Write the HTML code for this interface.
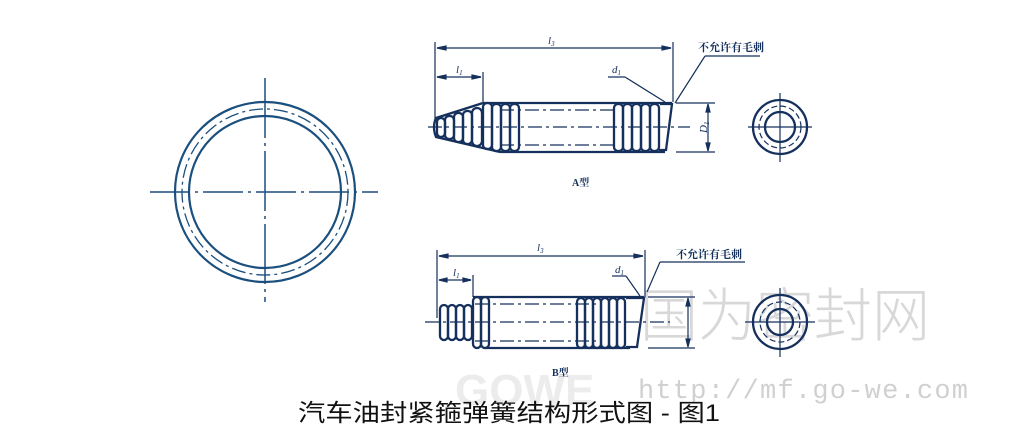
<!DOCTYPE html>
<html><head><meta charset="utf-8"><style>
html,body{margin:0;padding:0;background:#fff;}
svg{display:block}
</style></head><body>
<svg width="1018" height="443" viewBox="0 0 1018 443" xmlns="http://www.w3.org/2000/svg" font-family="'Liberation Serif','Noto Serif CJK SC',serif">
<rect width="1018" height="443" fill="#fff"/>
<g stroke="none">
<text x="640" y="336" font-size="58" font-family="'Liberation Sans','Noto Sans CJK SC',sans-serif" fill="#d8d8d8" font-weight="300">国为密封网</text>
<text x="638" y="398" font-size="27" font-family="'Liberation Mono',monospace" fill="#d0d0d0" textLength="330" lengthAdjust="spacing">http://mf.go-we.com</text>
<text x="455" y="405" font-size="44" font-family="'Liberation Sans',sans-serif" font-weight="bold" fill="#ececec">GOWE</text>
</g>
<g stroke="#1a4f7e" fill="none" stroke-width="2.2">
<circle cx="265" cy="192" r="90"/>
<circle cx="265" cy="192" r="76"/>
<circle cx="265" cy="192" r="83" stroke-width="1.3" stroke-dasharray="14 4 3 4"/>
<line x1="265" y1="78" x2="265" y2="302" stroke-width="1.5" stroke-dasharray="60 5 3 5"/>
<line x1="150" y1="192" x2="378" y2="192" stroke-width="1.5" stroke-dasharray="40 5 3 5"/>
</g>
<g stroke="#15305c" fill="none" stroke-width="1.2">
<line x1="435" y1="42" x2="435" y2="120"/>
<line x1="483" y1="72" x2="483" y2="102"/>
<line x1="673" y1="42" x2="673" y2="102"/>
<line x1="437" y1="48" x2="671" y2="48"/>
<polygon points="437,48 446,46 446,50" fill="#15305c"/>
<polygon points="671,48 662,46 662,50" fill="#15305c"/>
<line x1="437" y1="77" x2="481" y2="77"/>
<polygon points="437,77 446,75 446,79" fill="#15305c"/>
<polygon points="481,77 472,75 472,79" fill="#15305c"/>
<line x1="676" y1="103" x2="715" y2="103"/>
<line x1="676" y1="152" x2="715" y2="152"/>
<line x1="708" y1="105" x2="708" y2="150"/>
<polygon points="708,104 706,112 710,112" fill="#15305c"/>
<polygon points="708,151 706,143 710,143" fill="#15305c"/>
<line x1="705" y1="56" x2="675" y2="103"/>
<line x1="705" y1="56" x2="760" y2="56"/>
<line x1="608" y1="77" x2="625" y2="77"/>
<line x1="625" y1="77" x2="665" y2="102"/>
<line x1="428" y1="127" x2="690" y2="127" stroke-dasharray="14 4 3 4"/>
<line x1="500" y1="110" x2="615" y2="110" stroke-dasharray="14 4 3 4"/>
<line x1="500" y1="145" x2="615" y2="145" stroke-dasharray="14 4 3 4"/>
</g>
<g stroke="#15305c" fill="none" stroke-width="2.3">
<path d="M483,103 H672 M500,152 H665"/>
<path d="M483,103 L436,118 Q432,127 436,137 L500,152"/>
<rect x="437" y="118" width="8" height="19" rx="4"/>
<rect x="445" y="116" width="9" height="23" rx="4"/>
<rect x="454" y="113" width="9" height="29" rx="4"/>
<rect x="463" y="111" width="9" height="33" rx="4"/>
<rect x="472" y="108" width="10" height="38" rx="5"/>
<rect x="483" y="103" width="9" height="46" rx="4"/>
<rect x="492" y="104" width="9" height="47" rx="4"/>
<rect x="501" y="104" width="9" height="47" rx="4"/>
<rect x="510" y="104" width="9" height="47" rx="4"/>
<rect x="614" y="104" width="9" height="47" rx="4"/>
<rect x="623" y="104" width="9" height="47" rx="4"/>
<rect x="632" y="104" width="9" height="47" rx="4"/>
<rect x="641" y="104" width="9" height="47" rx="4"/>
<rect x="650" y="104" width="9" height="47" rx="4"/>
<path d="M660,104 L672,104 L666,150 L659,150"/>
<circle cx="780" cy="127" r="27"/>
<circle cx="780" cy="127" r="15"/>
<circle cx="780" cy="127" r="21" stroke-width="1.2" stroke-dasharray="6 3"/>
<line x1="748" y1="127" x2="812" y2="127" stroke-width="1.2"/>
<line x1="780" y1="93" x2="780" y2="162" stroke-width="1.2"/>
</g>
<g stroke="#15305c" fill="none" stroke-width="1.2">
<line x1="437" y1="250" x2="437" y2="318"/>
<line x1="473" y1="275" x2="473" y2="297"/>
<line x1="645" y1="250" x2="645" y2="297"/>
<line x1="439" y1="256" x2="643" y2="256"/>
<polygon points="439,256 448,254 448,258" fill="#15305c"/>
<polygon points="643,256 634,254 634,258" fill="#15305c"/>
<line x1="439" y1="280" x2="471" y2="280"/>
<polygon points="439,280 447,278 447,282" fill="#15305c"/>
<polygon points="471,280 463,278 463,282" fill="#15305c"/>
<line x1="648" y1="297" x2="695" y2="297"/>
<line x1="648" y1="348" x2="695" y2="348"/>
<line x1="688" y1="299" x2="688" y2="346"/>
<polygon points="688,298 686,306 690,306" fill="#15305c"/>
<polygon points="688,347 686,339 690,339" fill="#15305c"/>
<line x1="660" y1="262" x2="647" y2="292"/>
<line x1="660" y1="262" x2="745" y2="262"/>
<line x1="612" y1="276" x2="626" y2="276"/>
<line x1="626" y1="276" x2="640" y2="296"/>
<line x1="425" y1="322" x2="670" y2="322" stroke-dasharray="14 4 3 4"/>
<line x1="475" y1="304" x2="600" y2="304" stroke-dasharray="14 4 3 4"/>
<line x1="475" y1="341" x2="600" y2="341" stroke-dasharray="14 4 3 4"/>
</g>
<g stroke="#15305c" fill="none" stroke-width="2.3">
<path d="M473,297 H644 M485,348 H630"/>
<rect x="440" y="305" width="8" height="35" rx="4"/>
<rect x="448" y="305" width="8" height="35" rx="4"/>
<rect x="456" y="305" width="8" height="35" rx="4"/>
<rect x="464" y="305" width="8" height="35" rx="4"/>
<rect x="473" y="297" width="8" height="51" rx="4"/>
<rect x="481" y="297" width="8" height="51" rx="4"/>
<rect x="577" y="298" width="8" height="50" rx="4"/>
<rect x="585" y="298" width="8" height="50" rx="4"/>
<rect x="593" y="298" width="8" height="50" rx="4"/>
<rect x="601" y="298" width="8" height="50" rx="4"/>
<rect x="609" y="298" width="8" height="50" rx="4"/>
<rect x="617" y="298" width="8" height="50" rx="4"/>
<path d="M626,298 L644,298 L637,347 L626,347"/>
<circle cx="780" cy="322" r="27"/>
<circle cx="780" cy="322" r="13"/>
<circle cx="780" cy="322" r="20" stroke-width="1.2" stroke-dasharray="6 3"/>
<line x1="745" y1="322" x2="815" y2="322" stroke-width="1.2"/>
<line x1="780" y1="288" x2="780" y2="357" stroke-width="1.2"/>
</g>
<g fill="#15305c" font-style="italic">
<text x="548" y="44" font-size="11">l<tspan font-size="7" dy="2">3</tspan></text>
<text x="456" y="73" font-size="11">l<tspan font-size="7" dy="2">1</tspan></text>
<text x="612" y="73" font-size="11">d<tspan font-size="7" dy="2">1</tspan></text>
<text x="698" y="132" font-size="11" transform="rotate(-90 703 128)">D<tspan font-size="7" dy="2">1</tspan></text>
<text x="537" y="251" font-size="11">l<tspan font-size="7" dy="2">3</tspan></text>
<text x="453" y="276" font-size="11">l<tspan font-size="7" dy="2">1</tspan></text>
<text x="615" y="273" font-size="11">d<tspan font-size="7" dy="2">1</tspan></text>
</g>
<g fill="#15305c" font-weight="bold" font-size="11">
<text x="698" y="51">不允许有毛刺</text>
<text x="676" y="258">不允许有毛刺</text>
<text x="572" y="186" font-size="10">A型</text>
<text x="552" y="376" font-size="10">B型</text>
</g>
<text x="509" y="421" text-anchor="middle" font-size="24" fill="#111" font-family="'Liberation Sans','Noto Sans CJK SC',sans-serif" textLength="422" lengthAdjust="spacingAndGlyphs">汽车油封紧箍弹簧结构形式图 - 图1</text>
</svg>
</body></html>
